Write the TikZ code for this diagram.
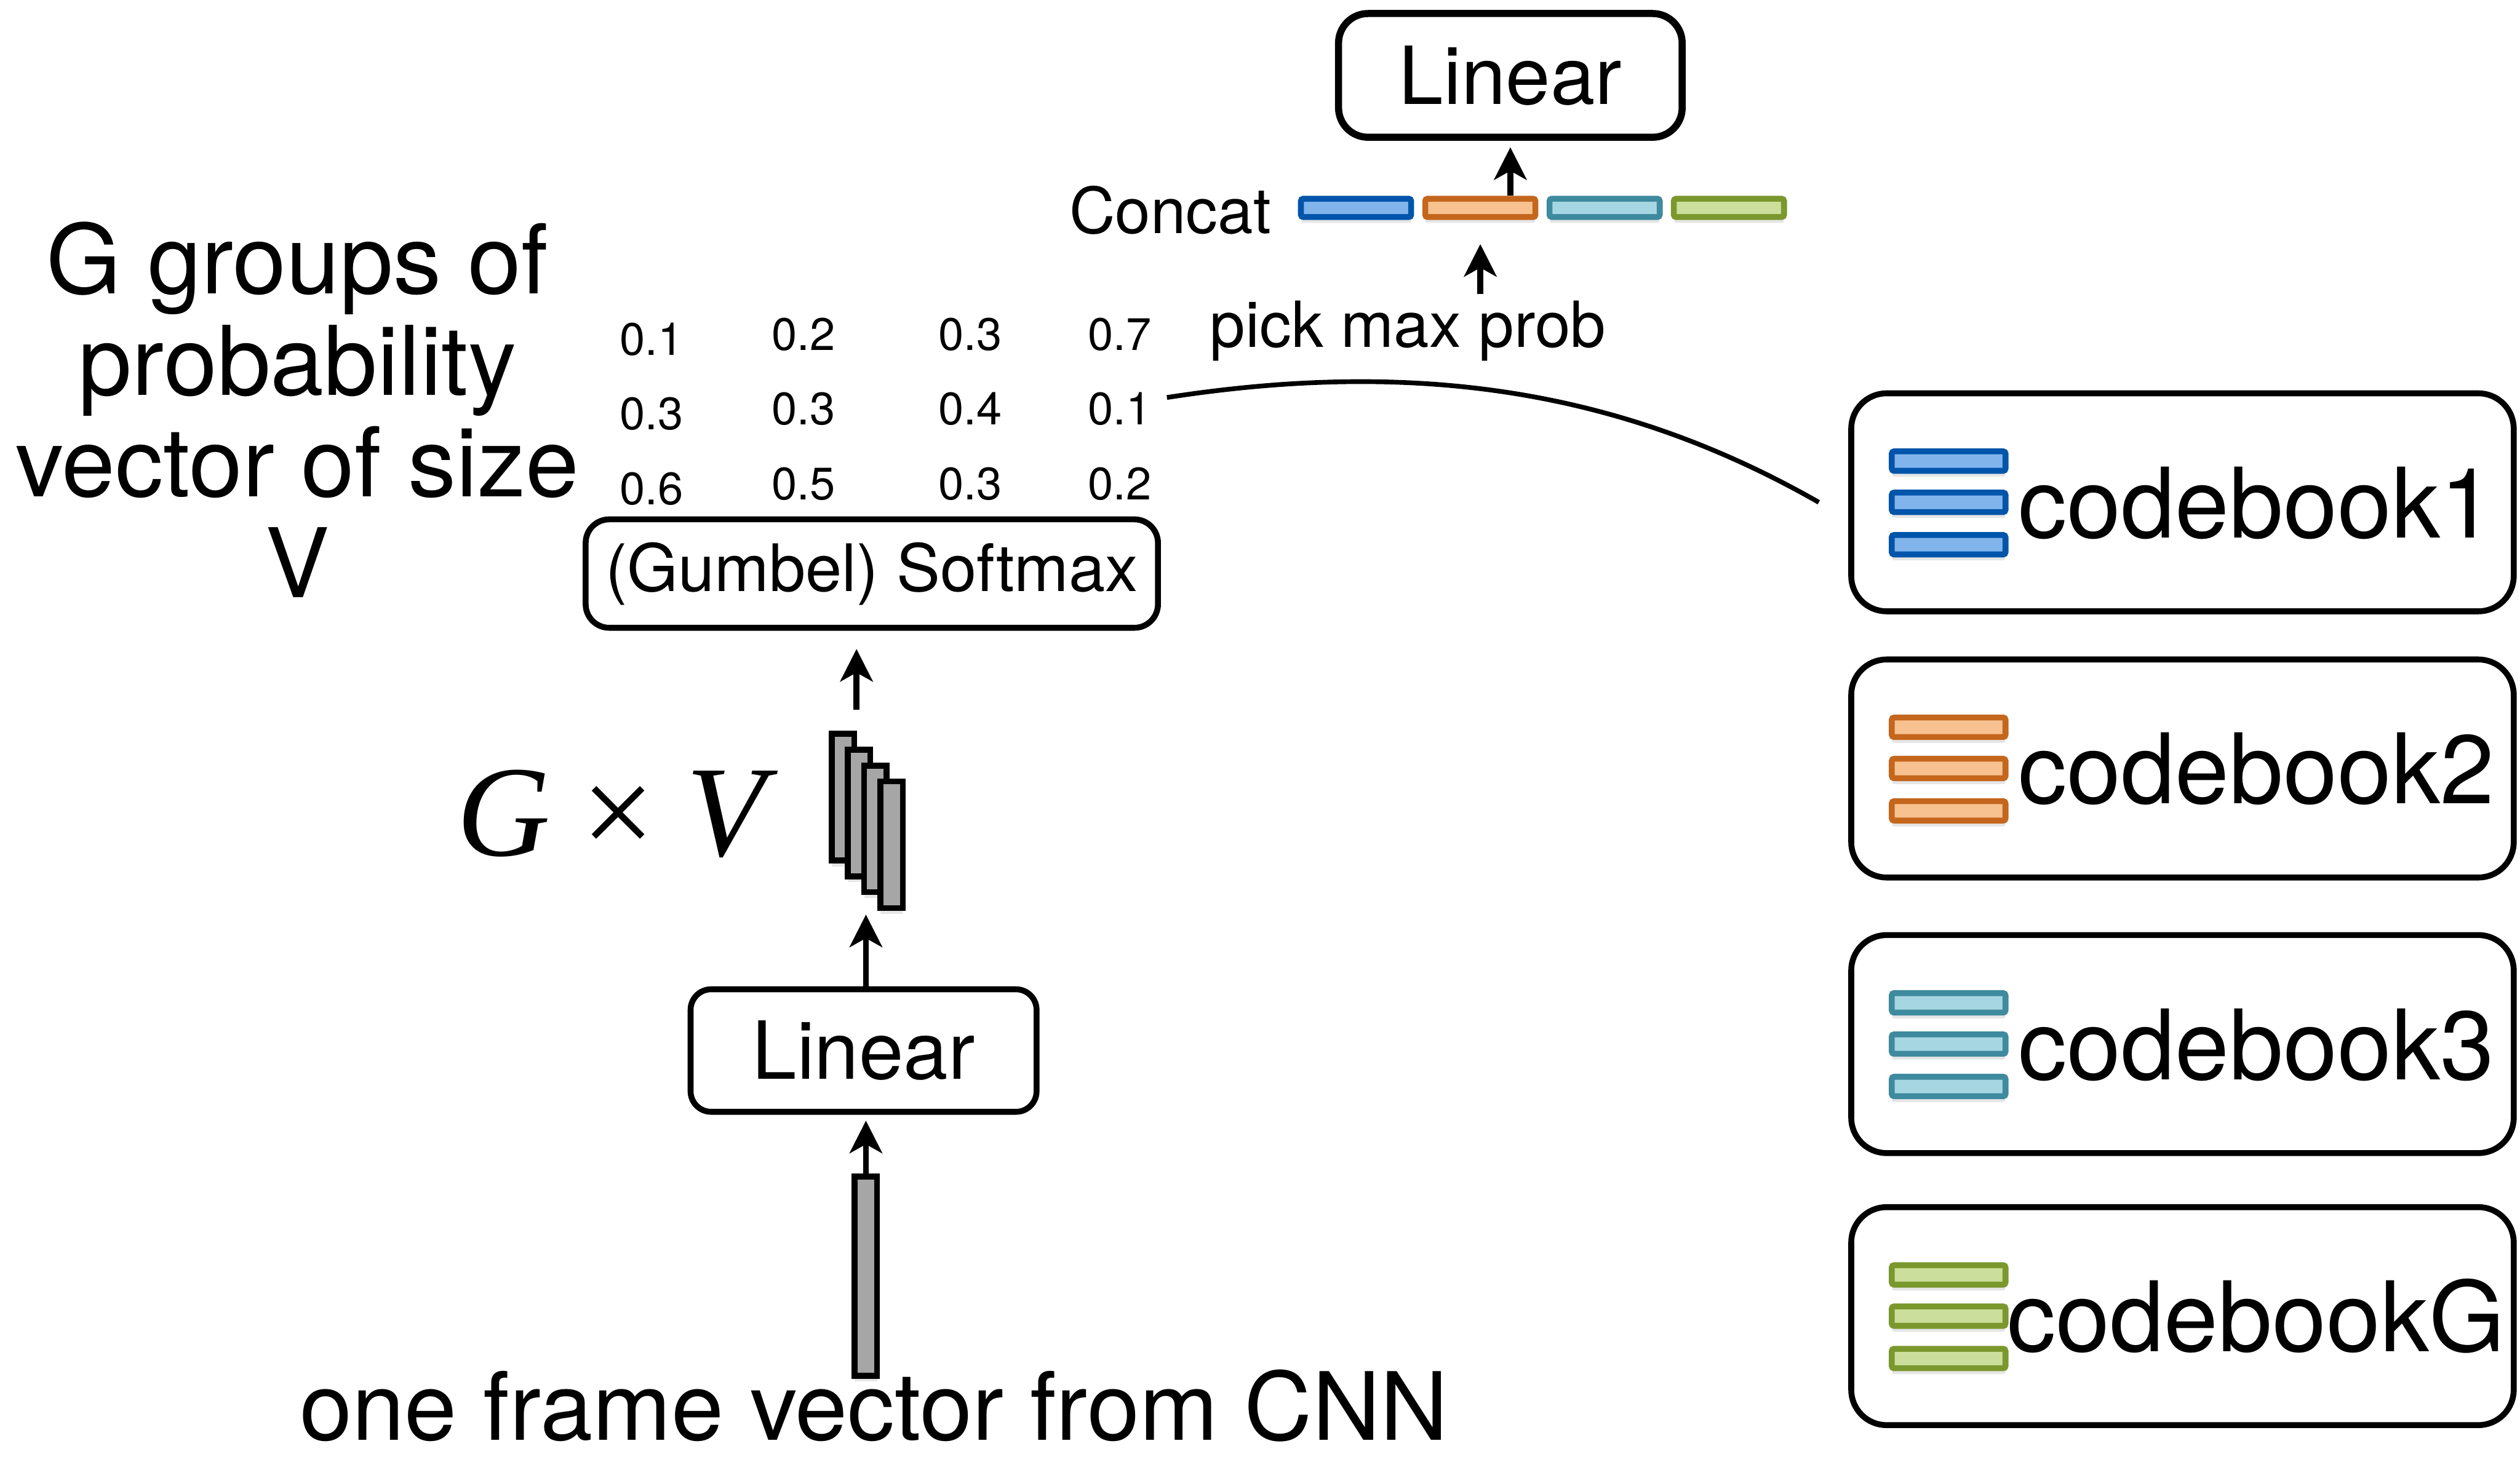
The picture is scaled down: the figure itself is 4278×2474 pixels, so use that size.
\documentclass[tikz,border=0pt]{standalone}
\usepackage{fontspec}
\setmainfont{TeX Gyre Heros}
\newfontfamily\timesfont{Liberation Serif}
\usetikzlibrary{arrows.meta,shadows}

\definecolor{cbBlueD}{HTML}{0055AA}
\definecolor{cbBlueL}{HTML}{82B4EC}
\definecolor{cbOrangeD}{HTML}{C4661C}
\definecolor{cbOrangeL}{HTML}{F8C190}
\definecolor{cbTealD}{HTML}{3E8A9E}
\definecolor{cbTealL}{HTML}{A7D6E3}
\definecolor{cbGreenD}{HTML}{7A982D}
\definecolor{cbGreenL}{HTML}{CBDE9B}
\definecolor{vecgray}{HTML}{A6A6A6}

\newcommand\fsz[2]{\fontsize{#1}{#2}\selectfont}

\tikzset{
  box/.style={draw, line width=1mm, rounded corners=4mm, inner sep=0pt},
  cbox/.style={draw, line width=1mm, rounded corners=6mm, minimum width=11.24cm, minimum height=3.7cm},
  arr/.style={-{Stealth[length=5.5mm,width=5.5mm,inset=1.5mm]}, line width=1mm},
  vec/.style={draw, line width=1mm, fill=vecgray, minimum width=0.38cm, inner sep=0pt,
    drop shadow={opacity=0.2, shadow xshift=0mm, shadow yshift=-1mm}},
  bar/.style 2 args={draw=#1, fill=#2, line width=1mm, inner sep=0pt, rounded corners=0.4mm,
    drop shadow={opacity=0.2, shadow xshift=0mm, shadow yshift=-1mm}},
  num/.style={anchor=base, font={\fsz{22pt}{22pt}}},
}

\begin{document}
\begin{tikzpicture}[x=0.01cm, y=-0.01cm]
    \useasboundingbox (0,0) rectangle (4278,2474);

    % left side: label and probabilities
    \node[align=center, anchor=base, font={\fsz{46.4pt}{48.9pt}}] (grp) at (505,1015) {G groups of\\probability\\vector of size\\V};

    \foreach \x/\dy/\a/\b/\c [count=\i] in {1106/8/0.1/0.3/0.6, 1364/0/0.2/0.3/0.5, 1647/0/0.3/0.4/0.3, 1901/0/0.7/0.1/0.2} {
        \node[num] (p\i1) at (\x,595+\dy) {\a};
        \node[num] (p\i2) at (\x,721+\dy) {\b};
        \node[num] (p\i3) at (\x,849+\dy) {\c};
    }

    \node[box, minimum width=9.71cm, minimum height=1.84cm, font={\fsz{31.6pt}{32pt}}] (smax) at (1480,974) {(Gumbel) Softmax};

    % G x V stack
    \node[anchor=base, font={\timesfont\fsz{62.6pt}{63pt}}] (gv) at (1048,1453) {\textit{G}\hspace{0.24em}×\hspace{0.24em}\textit{V}};
    \foreach \i in {0,...,3}
        \node[vec, minimum height=2.15cm, anchor=north west] (s\i) at (1407+27.5*\i,1241+27*\i) {};

    \node[box, rounded corners=3.5mm, minimum width=5.87cm, minimum height=2.08cm, font={\fsz{38.7pt}{40pt}}] (linB) at (1466,1784) {Linear};
    \node[vec, minimum height=3.38cm] (cnn) at (1470,2167) {};
    \node[anchor=base, inner sep=0pt, font={\fsz{45.5pt}{46pt}}] (cap) at (1484,2445) {one frame vector from CNN};

    \coordinate (up) at (1454,1205);
    \draw[arr, shorten >=1mm] (cnn.north) -- (cnn.north |- linB.south);
    \draw[arr, shorten >=0.6mm] (linB.north -| cnn.north) -- (cnn.north |- s3.south);
    \draw[arr, shorten >=3.1mm] (up) -- (up |- smax.south);

    % top: concat and linear
    \node[box, rounded corners=5mm, line width=1.2mm, minimum width=5.83cm, minimum height=2.1cm, font={\fsz{38.7pt}{40pt}}] (linT) at (2564,128) {Linear};
    \foreach \bd/\bf [count=\i from 0] in {cbBlueD/cbBlueL, cbOrangeD/cbOrangeL, cbTealD/cbTealL, cbGreenD/cbGreenL}
        \node[bar={\bd}{\bf}, minimum width=1.87cm, minimum height=0.31cm] (b\i) at (2302+211*\i,353) {};
    \node[anchor=base east, font={\fsz{30.7pt}{31pt}}] (cat) at (2170,396) {Concat};
    \node[anchor=base, font={\fsz{30.7pt}{31pt}}] (pick) at (2390,590) {pick max prob};

    \draw[arr, shorten >=1.1mm] (b1.north -| linT.south) -- (linT.south);
    \draw[arr, shorten >=4.1mm] (pick.north -| b1.south) -- (b1.south);

    % codebooks
    \foreach \y/\n/\bd/\bf in {853/1/cbBlueD/cbBlueL, 1305/2/cbOrangeD/cbOrangeL, 1773/3/cbTealD/cbTealL, 2235/G/cbGreenD/cbGreenL} {
        \node[cbox] (cb\n) at (3705,\y) {};
        \foreach \dy [count=\k] in {-70,0,72}
            \node[bar={\bd}{\bf}, minimum width=1.93cm, minimum height=0.33cm] (cb\n-\k) at (3308,\y+\dy) {};
        \node[anchor=base, font={\fsz{47pt}{47pt}}] (cbt\n) at (3830,\y+60) {codebook\n};
    }

    \coordinate (cs) at (1981,675);
    \draw[line width=0.8mm] (cs) .. controls (2400,610) and (2750,660) .. ([xshift=-5mm]cb1.west);
\end{tikzpicture}
\end{document}
